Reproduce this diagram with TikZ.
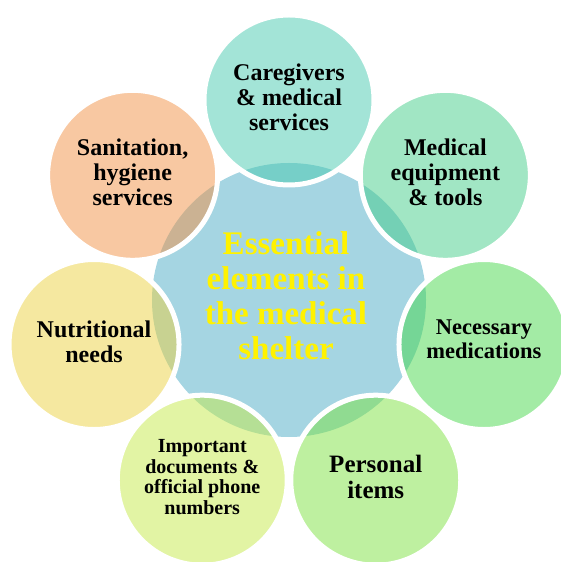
\documentclass[tikz,border=0pt]{standalone}
\usepackage{fontspec}
\setmainfont{Liberation Serif}

\definecolor{hubblue}{RGB}{165,213,226}
\definecolor{careteal}{RGB}{72,202,175}
\definecolor{toolmint}{RGB}{68,205,137}
\definecolor{medgreen}{RGB}{71,215,75}
\definecolor{itemlime}{RGB}{125,225,65}
\definecolor{docyellow}{RGB}{197,233,73}
\definecolor{foodyellow}{RGB}{235,209,65}
\definecolor{hygpeach}{RGB}{241,145,69}

\tikzset{
  element/.style={circle, minimum size=170bp, inner sep=0pt, draw=white, line width=5bp,
    fill opacity=0.5, text opacity=1, align=center, text depth=6bp,
    font=\bfseries\fontsize{24bp}{25bp}\selectfont}
}

\begin{document}
\begin{tikzpicture}[x=1bp,y=1bp]
  \useasboundingbox (-289,-262) rectangle (272,300);
  \node (hub) [circle, minimum size=274bp, inner sep=0pt, fill=hubblue] {};
  \node (hubtext) [text=yellow, align=center, font=\bfseries\fontsize{33bp}{35bp}\selectfont]
    at (-3,4) {Essential\\elements in\\the medical\\shelter};
  % the seven elements around the shelter
  \node (care) [element, fill=careteal] at (90:200bp) {Caregivers\\\& medical\\services};
  \node (tools) [element, fill=toolmint] at (38.57:200bp) {Medical\\equipment\\\& tools};
  \node (meds) [element, fill=medgreen, text depth=11bp,
    font=\bfseries\fontsize{22.5bp}{23.5bp}\selectfont]
    at (347.14:200bp) {Necessary\\medications};
  \node (items) [element, fill=itemlime, font=\bfseries\fontsize{25bp}{26bp}\selectfont]
    at (295.71:200bp) {Personal\\items};
  \node (docs) [element, fill=docyellow, font=\bfseries\fontsize{20bp}{20.5bp}\selectfont]
    at (244.29:200bp) {Important\\documents \&\\official phone\\numbers};
  \node (food) [element, fill=foodyellow] at (192.86:200bp) {Nutritional\\needs};
  \node (hygiene) [element, fill=hygpeach] at (141.43:200bp) {Sanitation,\\hygiene\\services};
\end{tikzpicture}
\end{document}
